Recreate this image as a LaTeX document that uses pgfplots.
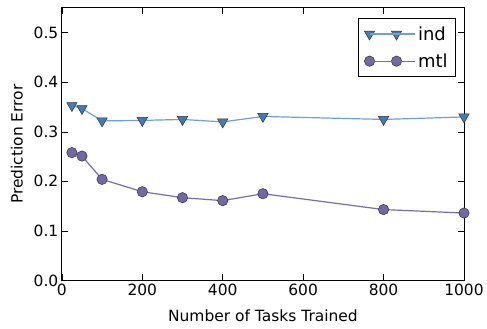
\documentclass[border=0pt]{standalone}
\usepackage{pgfplots}
\pgfplotsset{compat=1.18}
\usepackage{fontspec}
\setmainfont{DejaVu Sans}
\definecolor{indline}{HTML}{6CA0DC}
\definecolor{indfill}{HTML}{3F7CBF}
\definecolor{mtlc}{HTML}{7A6BAE}
\definecolor{mtlfill}{HTML}{7366AA}
\begin{document}
\begin{tikzpicture}
\begin{axis}[
  scale only axis, width=403pt, height=273pt,
  xmin=0, xmax=1000, ymin=0, ymax=0.55,
  xtick={0,200,400,600,800,1000},
  ytick={0,0.1,0.2,0.3,0.4,0.5},
  yticklabel style={/pgf/number format/.cd,fixed,fixed zerofill,precision=1},
  xticklabel style={/pgf/number format/1000 sep={}},
  /pgf/number format/assume math mode=true,
  tick align=inside, tick pos=both,
  major tick length=6pt,
  tick style={black, line width=0.6pt},
  axis line style={line width=1pt},
  font=\fontsize{15.5}{18}\selectfont,
  xlabel={Number of Tasks Trained},
  ylabel={Prediction Error},
  xlabel style={yshift=-7pt},
  ylabel style={yshift=4pt},
  legend style={at={(0.980,0.963)}, anchor=north east, draw=black, line width=0.8pt, font=\fontsize{18}{20}\selectfont, row sep=8pt, inner xsep=6pt, inner ysep=6pt},
  legend cell align=left,
  legend image code/.code={\draw[#1, mark repeat=2, mark phase=1] plot coordinates {(0pt,0pt)(13.5pt,0pt)(27pt,0pt)};\path (0pt,0pt) -- (46pt,0pt);},
]
\addplot[indline, line width=1.2pt, mark=triangle*, mark size=6pt, mark options={rotate=180, fill=indfill, draw=black!80, line width=0.5pt}]
coordinates {(25,0.353)(50,0.347)(100,0.322)(200,0.323)(300,0.325)(400,0.320)(500,0.331)(800,0.325)(1000,0.330)};
\addlegendentry{ind}
\addplot[mtlc, line width=1.2pt, mark=*, mark size=5.2pt, mark options={fill=mtlfill, draw=black!80, line width=0.5pt}]
coordinates {(25,0.258)(50,0.251)(100,0.204)(200,0.179)(300,0.167)(400,0.161)(500,0.175)(800,0.143)(1000,0.136)};
\addlegendentry{mtl}
\coordinate (TL) at (rel axis cs:0,1);
\coordinate (BR) at (rel axis cs:1,0);
\end{axis}
\path (TL) ++(-62pt,8pt) (BR) ++(22pt,-48pt);
\end{tikzpicture}
\end{document}
